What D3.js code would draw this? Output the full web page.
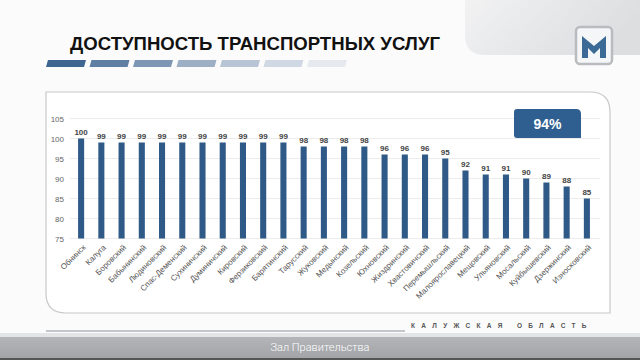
<!DOCTYPE html>
<html>
<head>
<meta charset="utf-8">
<script src="https://cdn.jsdelivr.net/npm/d3@7"></script>
<style>
  body { margin: 0; background: #fff; }
  svg { display: block; font-family: "Liberation Sans", Arial, sans-serif; }
</style>
</head>
<body>
<svg id="chart" width="640" height="360"></svg>
<script>
// data
var districts = ["Обнинск", "Калуга", "Боровский", "Бабынинский", "Людиновский", "Спас-Деменский",
  "Сухиничский", "Думиничский", "Кировский", "Ферзиковский", "Барятинский", "Тарусский",
  "Жуковский", "Медынский", "Козельский", "Юхновский", "Жиздринский", "Хвастовичский",
  "Перемышльский", "Малоярославецкий", "Мещовский", "Ульяновский", "Мосальский",
  "Куйбышевский", "Дзержинский", "Износковский"];
var values = [100, 99, 99, 99, 99, 99, 99, 99, 99, 99, 99, 98, 98, 98, 98, 96, 96, 96, 95, 92, 91, 91, 90, 89, 88, 85];
var yTicks = [75, 80, 85, 90, 95, 100, 105];
var total = "94%";
var title = "ДОСТУПНОСТЬ ТРАНСПОРТНЫХ УСЛУГ";
var region = "КАЛУЖСКАЯ ОБЛАСТЬ";
var caption = "Зал Правительства";
var stripeColors = ["#3e6690", "#5f7fa3", "#7d96b3", "#9cafc5", "#b7c5d5", "#d0d9e3", "#e6eaef"];

var svg = d3.select('#chart');
var defs = svg.append('defs');

var g1 = defs.append('linearGradient').attr('id', 'corner').attr('x1', 0).attr('y1', 0).attr('x2', 1).attr('y2', 0.3);
g1.append('stop').attr('offset', '0').attr('stop-color', '#f2f2f3');
g1.append('stop').attr('offset', '1').attr('stop-color', '#dcdee0');

var g2 = defs.append('linearGradient').attr('id', 'band').attr('x1', 0).attr('y1', 0).attr('x2', 0).attr('y2', 1);
g2.append('stop').attr('offset', '0').attr('stop-color', '#b3b5b8');
g2.append('stop').attr('offset', '1').attr('stop-color', '#a2a4a7');

// page background
svg.append('rect').attr('width', 640).attr('height', 360).attr('fill', '#fbfbfb');
svg.append('path')
  .attr('d', 'M465,0 L640,0 L640,55 L485,55 Q465,55 465,35 Z')
  .attr('fill', 'url(#corner)');

// logo
svg.append('rect').attr('x', 576).attr('y', 27).attr('width', 36).attr('height', 37).attr('rx', 4)
  .attr('fill', '#f4f6f8').attr('stroke', '#b9bbbe').attr('stroke-width', 2.5);
svg.append('path')
  .attr('d', 'M582,36 L594,46 L606,36 L606,58 L600,58 L600,48 L594,54 L588,48 L588,58 L582,58 Z')
  .attr('fill', '#3b6a97');

// title
svg.append('text').attr('x', 70).attr('y', 50)
  .attr('font-size', 19).attr('font-weight', 'bold').attr('fill', '#111')
  .attr('textLength', 370).attr('lengthAdjust', 'spacingAndGlyphs')
  .text(title);

svg.selectAll('.stripe').data(stripeColors).enter().append('path')
  .attr('class', 'stripe')
  .attr('d', function(d, i) {
    var x = 46 + i * 43.5;
    return 'M' + (x + 2) + ',60 L' + (x + 40) + ',60 L' + (x + 38) + ',67 L' + x + ',67 Z';
  })
  .attr('fill', function(d) { return d; });

// frame
svg.append('path')
  .attr('d', 'M46,92 L590,92 Q610,92 610,112 L610,313 L66,313 Q46,313 46,293 Z')
  .attr('fill', '#fff').attr('stroke', '#c8c8c8').attr('stroke-width', 1.2);

var x = d3.scaleBand().domain(districts).range([71, 597]).paddingInner(0.7).paddingOuter(0.35);
var y = d3.scaleLinear().domain([75, 105]).range([238.5, 118.5]);

// grid
svg.append('g').selectAll('line').data(yTicks).enter().append('line')
  .attr('x1', 70).attr('x2', 600)
  .attr('y1', function(d) { return y(d); }).attr('y2', function(d) { return y(d); })
  .attr('stroke', '#ececec').attr('stroke-width', 1);

var yAxis = svg.append('g').attr('transform', 'translate(66,0)')
  .call(d3.axisLeft(y).tickValues(yTicks).tickSize(0).tickPadding(2));
yAxis.select('.domain').remove();
yAxis.selectAll('text').attr('font-size', 8).attr('fill', '#666').attr('font-family', '"Liberation Sans", Arial, sans-serif');

// bars
svg.append('g').selectAll('rect').data(values).enter().append('rect')
  .attr('x', function(d, i) { return x(districts[i]); })
  .attr('width', x.bandwidth())
  .attr('y', function(d) { return y(d); })
  .attr('height', function(d) { return y(75) - y(d); })
  .attr('fill', '#2f5a87');

svg.append('g').selectAll('text').data(values).enter().append('text')
  .attr('x', function(d, i) { return x(districts[i]) + x.bandwidth() / 2; })
  .attr('y', function(d) { return y(d) - 4; })
  .attr('text-anchor', 'middle')
  .attr('font-size', 8).attr('font-weight', 'bold').attr('fill', '#444')
  .text(function(d) { return d; });

// category labels
var xAxis = svg.append('g').attr('transform', 'translate(0,240)')
  .call(d3.axisBottom(x).tickSize(0).tickPadding(0));
xAxis.select('.domain').remove();
xAxis.selectAll('text')
  .attr('font-size', 8).attr('fill', '#555').attr('font-family', '"Liberation Sans", Arial, sans-serif')
  .attr('text-anchor', 'end')
  .attr('dy', '0.35em')
  .attr('transform', 'translate(3,6) rotate(-45)');

// total box
svg.append('path')
  .attr('d', 'M514,112 Q514,109 517,109 L576,109 Q581,109 581,114 L581,138 L517,138 Q514,138 514,135 Z')
  .attr('fill', '#2f5f91');
svg.append('text').attr('x', 547.5).attr('y', 129).attr('text-anchor', 'middle')
  .attr('font-size', 14).attr('font-weight', 'bold').attr('fill', '#fff').text(total);

// footer
svg.append('line').attr('x1', 46).attr('x2', 405).attr('y1', 331).attr('y2', 331)
  .attr('stroke', '#8a939c').attr('stroke-width', 1);
svg.append('text').attr('x', 411).attr('y', 328)
  .attr('font-size', 6.5).attr('font-weight', 'bold').attr('fill', '#555').attr('letter-spacing', 6.3)
  .text(region.replace('Я О', 'Я  О'));
svg.append('rect').attr('x', 0).attr('y', 333).attr('width', 640).attr('height', 4).attr('fill', '#e3e4e5');
svg.append('rect').attr('x', 0).attr('y', 337).attr('width', 640).attr('height', 21).attr('fill', 'url(#band)');
svg.append('rect').attr('x', 0).attr('y', 358).attr('width', 640).attr('height', 2).attr('fill', '#555');
svg.append('text').attr('x', 320).attr('y', 351).attr('text-anchor', 'middle')
  .attr('font-size', 11).attr('fill', '#fff').attr('font-family', 'Roboto, sans-serif').attr('font-weight', 300)
  .text(caption);
</script>
</body>
</html>
